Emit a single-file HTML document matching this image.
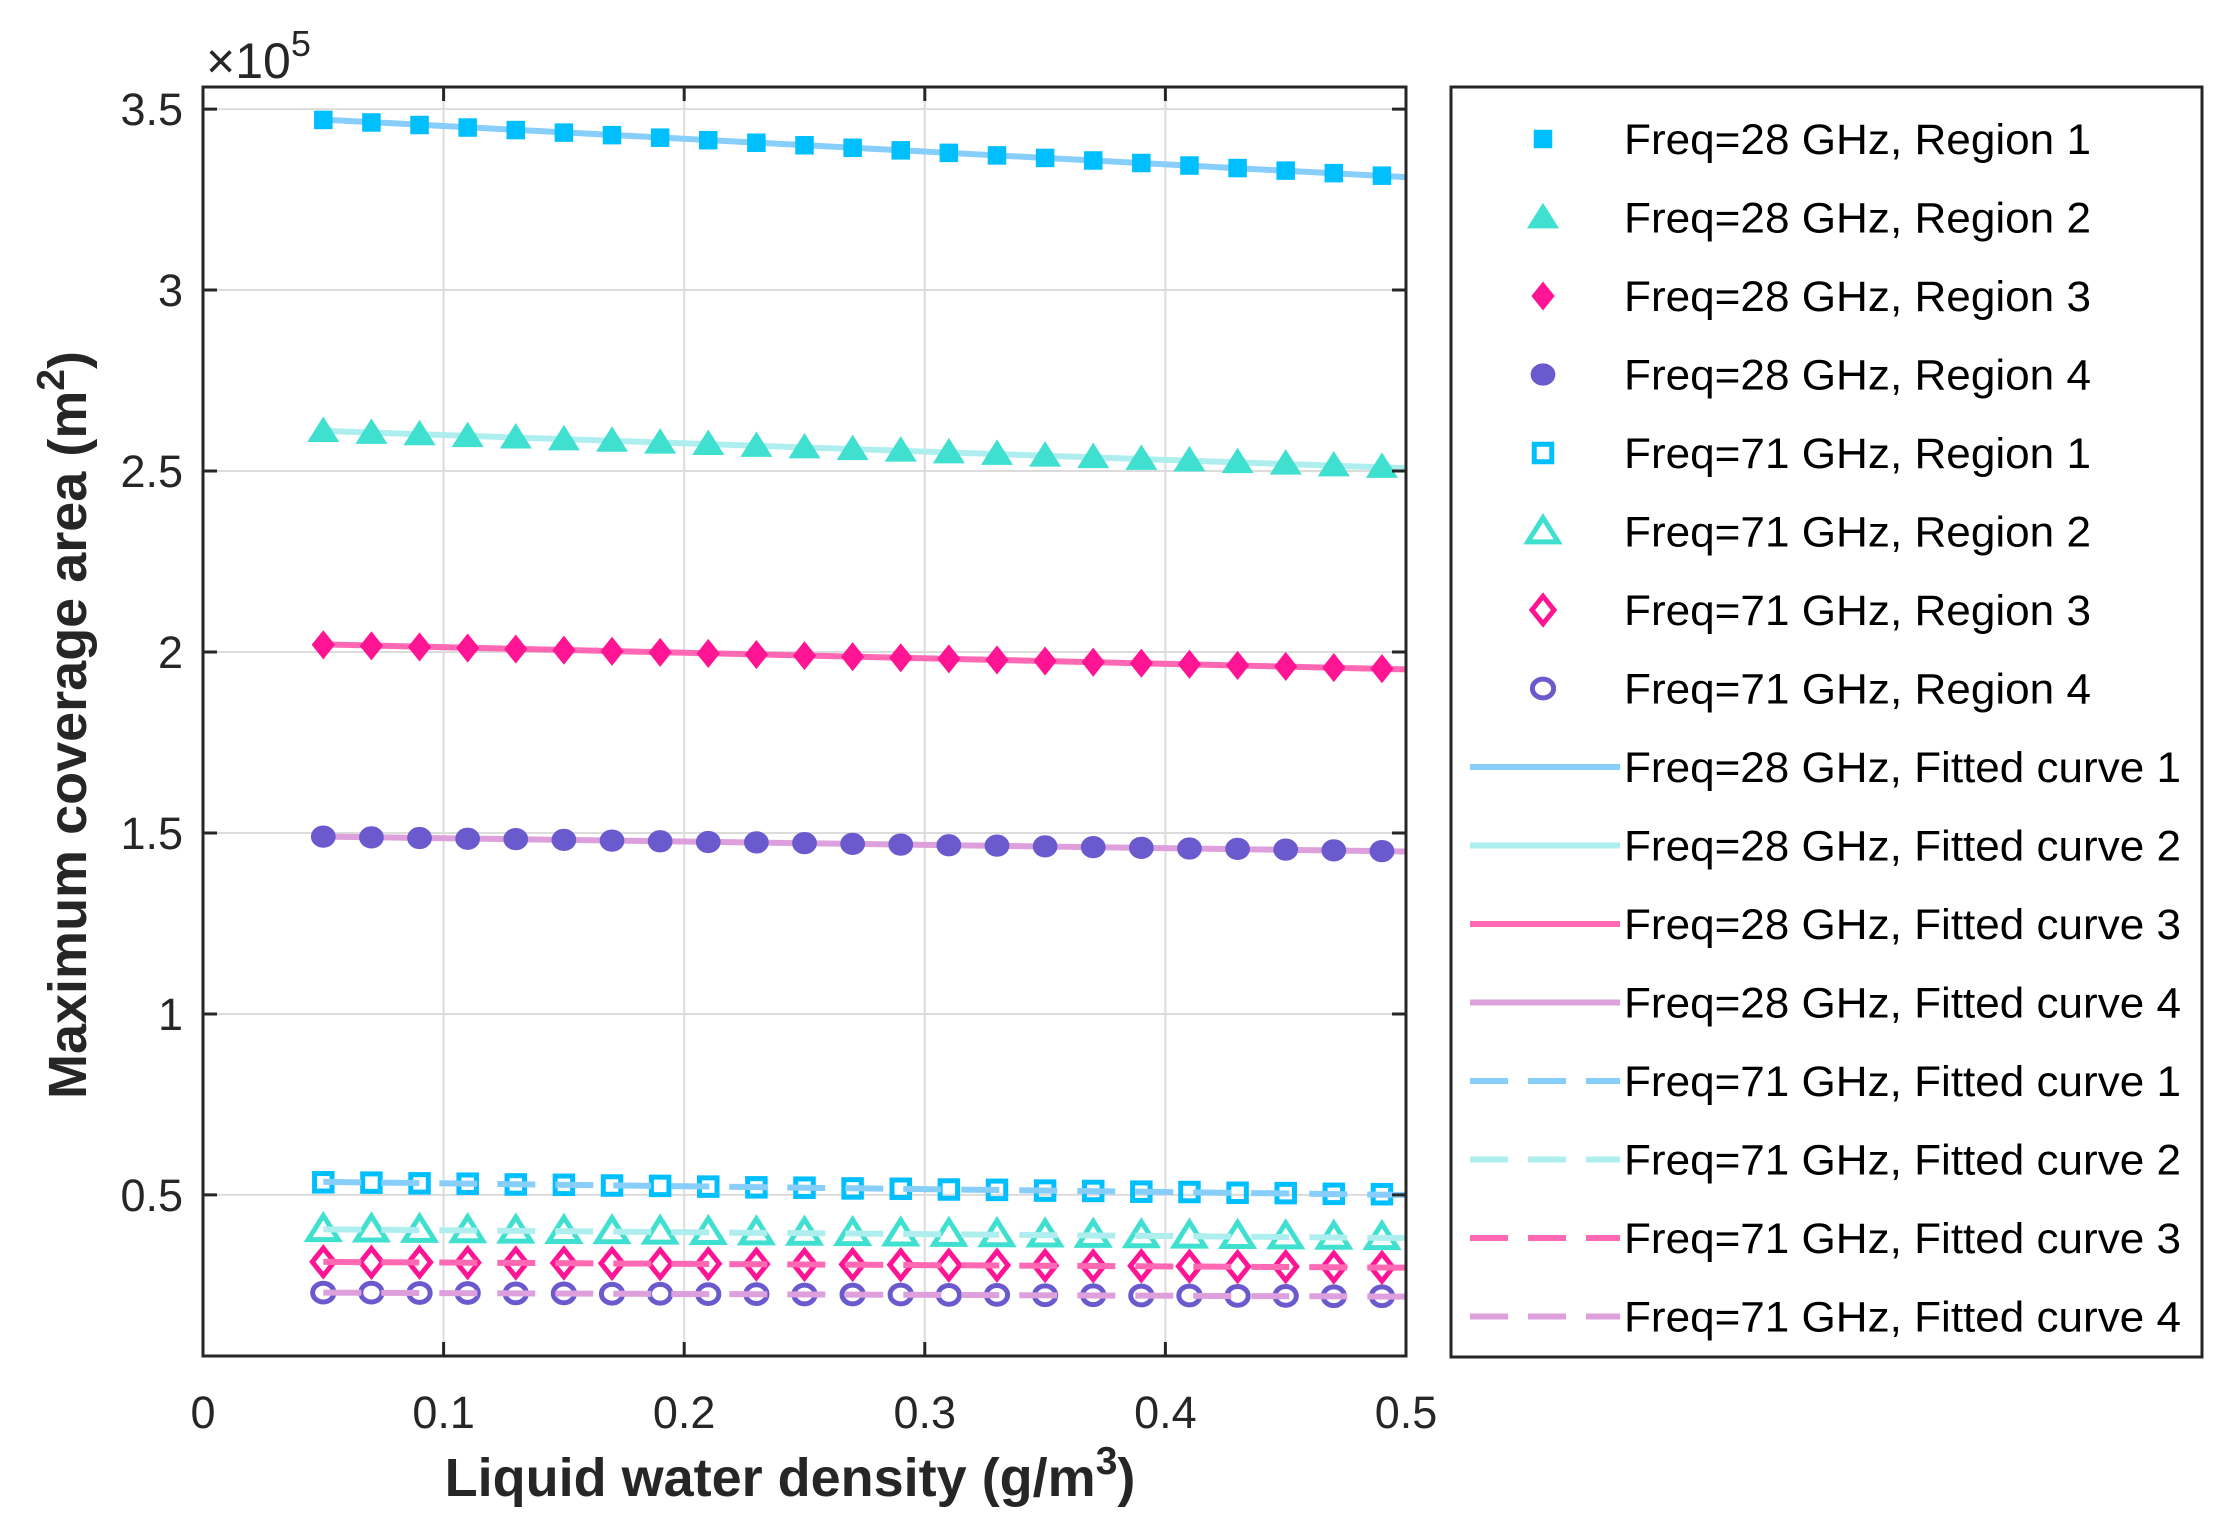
<!DOCTYPE html>
<html><head><meta charset="utf-8"><style>
html,body{margin:0;padding:0;background:#fff;}
svg{display:block;font-family:"Liberation Sans",Arial,sans-serif;}
</style></head><body>
<svg id="chart" width="2238" height="1540" viewBox="0 0 2238 1540" xmlns="http://www.w3.org/2000/svg">
<rect x="0" y="0" width="2238" height="1540" fill="#fff"/>
<g id="grid"></g>
<g id="series"></g>
<g id="axes"></g>
<text x="206" y="78" font-size="50" fill="#262626">×10<tspan dy="-22" font-size="36">5</tspan></text>
<text x="790" y="1496" font-size="54" font-weight="bold" text-anchor="middle" fill="#262626">Liquid water density (g/m<tspan dy="-22" font-size="39">3</tspan><tspan dy="22">)</tspan></text>
<text transform="translate(86,725) rotate(-90)" font-size="54" font-weight="bold" text-anchor="middle" fill="#262626">Maximum coverage area (m<tspan dy="-22" font-size="39">2</tspan><tspan dy="22">)</tspan></text>
<g id="legend"></g>
</svg>
<script>
const xTicks=[0,0.1,0.2,0.3,0.4,0.5];
const xTickLabels=["0","0.1","0.2","0.3","0.4","0.5"];
const yTicks=[0.5,1,1.5,2,2.5,3,3.5];
const yTickLabels=["0.5","1","1.5","2","2.5","3","3.5"];
const xData=[0.05,0.07,0.09,0.11,0.13,0.15,0.17,0.19,0.21,0.23,0.25,0.27,0.29,0.31,0.33,0.35,0.37,0.39,0.41,0.43,0.45,0.47,0.49];
const f28r1=[3.470,3.463,3.456,3.449,3.442,3.435,3.428,3.421,3.414,3.407,3.400,3.393,3.386,3.379,3.372,3.365,3.358,3.351,3.344,3.337,3.330,3.323,3.316];
const f28r2=[2.610,2.605,2.601,2.596,2.592,2.587,2.583,2.578,2.574,2.569,2.565,2.560,2.556,2.551,2.547,2.542,2.538,2.533,2.529,2.524,2.520,2.515,2.511];
const f28r3=[2.020,2.017,2.014,2.011,2.008,2.005,2.002,1.999,1.996,1.993,1.990,1.987,1.984,1.981,1.978,1.975,1.972,1.969,1.966,1.963,1.960,1.957,1.954];
const f28r4=[1.490,1.488,1.486,1.484,1.483,1.481,1.479,1.477,1.475,1.474,1.472,1.470,1.468,1.466,1.465,1.463,1.461,1.459,1.457,1.456,1.454,1.452,1.450];
const f71r1=[0.535,0.534,0.532,0.531,0.529,0.528,0.526,0.525,0.523,0.521,0.520,0.518,0.517,0.515,0.514,0.512,0.511,0.509,0.508,0.506,0.505,0.503,0.502];
const f71r2=[0.405,0.404,0.403,0.402,0.401,0.400,0.399,0.398,0.397,0.396,0.395,0.394,0.393,0.392,0.391,0.390,0.389,0.388,0.387,0.386,0.385,0.384,0.383];
const f71r3=[0.315,0.314,0.314,0.313,0.312,0.312,0.311,0.310,0.310,0.309,0.308,0.308,0.307,0.306,0.306,0.305,0.304,0.304,0.303,0.302,0.302,0.301,0.300];
const f71r4=[0.230,0.230,0.229,0.229,0.228,0.228,0.227,0.227,0.226,0.226,0.225,0.225,0.225,0.224,0.224,0.223,0.223,0.222,0.222,0.221,0.221,0.220,0.220];
const fitX=[0.05,0.5];
const fit28c1=[3.471,3.312];
const fit28c2=[2.611,2.508];
const fit28c3=[2.021,1.952];
const fit28c4=[1.490,1.449];
const fit71c1=[0.536,0.500];
const fit71c2=[0.405,0.381];
const fit71c3=[0.315,0.299];
const fit71c4=[0.230,0.219];

const L=203,R=1406,T=87,B=1356;
const xMin=0,xMax=0.5,yMin=0.055,yMax=3.561;
const X=v=>L+(v-xMin)/(xMax-xMin)*(R-L);
const Y=v=>B-(v-yMin)/(yMax-yMin)*(B-T);
const NS='http://www.w3.org/2000/svg';
function mk(tag,attrs,parent){const e=document.createElementNS(NS,tag);for(const k in attrs)e.setAttribute(k,attrs[k]);parent.appendChild(e);return e;}
const grid=document.getElementById('grid'),axes=document.getElementById('axes'),ser=document.getElementById('series'),leg=document.getElementById('legend');

xTicks.forEach((t,i)=>{
  if(t>xMin&&t<xMax){const g=mk('line',{x1:X(t),x2:X(t),y1:T,y2:B,stroke:'#dcdcdc','stroke-width':2},grid);
  
  }
  const tk=mk('path',{d:`M${X(t)},${B}v-14M${X(t)},${T}v14`,stroke:'#262626','stroke-width':3},axes);
  
  
  const lb=mk('text',{x:X(t),y:1428,'font-size':45,'text-anchor':'middle',fill:'#262626'},axes);
  lb.textContent=xTickLabels[i];
  
  
});
yTicks.forEach((t,i)=>{
  const g=mk('line',{x1:L,x2:R,y1:Y(t),y2:Y(t),stroke:'#dcdcdc','stroke-width':2},grid);
  
  
  const tk=mk('path',{d:`M${L},${Y(t)}h14M${R},${Y(t)}h-14`,stroke:'#262626','stroke-width':3},axes);
  
  
  const lb=mk('text',{x:183,y:Y(t)+16,'font-size':45,'text-anchor':'end',fill:'#262626'},axes);
  lb.textContent=yTickLabels[i];
  
  
});
const box=mk('rect',{x:L,y:T,width:R-L,height:B-T,fill:'none',stroke:'#262626','stroke-width':3},axes);



const mc=['#00BFFF','#40E0D0','#FF1493','#6A5ACD'];
const lc=['#87CEFA','#AFEEEE','#FF69B4','#DDA0DD'];
const shapes=['square','triangle','diamond','circle'];
function marker(shape,cx,cy,color,filled,parent){
  const s=1.25;let e;
  const st=filled?{fill:color,stroke:color,'stroke-width':1}:{fill:'none',stroke:color,'stroke-width':5};
  if(shape==='square'){const h=7*s;e=mk('rect',Object.assign({x:cx-h,y:cy-h,width:2*h,height:2*h},st),parent);}
  else if(shape==='triangle'){const h=11*s;e=mk('polygon',Object.assign({points:`${cx},${cy-h} ${cx+h*1.1},${cy+h*0.75} ${cx-h*1.1},${cy+h*0.75}`},st),parent);}
  else if(shape==='diamond'){const h=11*s;e=mk('polygon',Object.assign({points:`${cx},${cy-h} ${cx+h*0.8},${cy} ${cx},${cy+h} ${cx-h*0.8},${cy}`},st),parent);}
  else {e=mk('ellipse',Object.assign({cx:cx,cy:cy,rx:(filled?9.5:8.5)*s,ry:(filled?8.5:7.5)*s},st),parent);}
  return e;
}
const pts28=[f28r1,f28r2,f28r3,f28r4],pts71=[f71r1,f71r2,f71r3,f71r4];
const fits28=[fit28c1,fit28c2,fit28c3,fit28c4],fits71=[fit71c1,fit71c2,fit71c3,fit71c4];
const dash='38 20';
fits28.forEach((f,i)=>{const e=mk('line',{x1:X(fitX[0]),y1:Y(f[0]),x2:X(fitX[1]),y2:Y(f[1]),stroke:lc[i],'stroke-width':6},ser);
  
  });
pts28.forEach((arr,i)=>{arr.forEach((v,j)=>{const m=marker(shapes[i],X(xData[j]),Y(v),mc[i],true,ser);
  
  });});
pts71.forEach((arr,i)=>{arr.forEach((v,j)=>{const m=marker(shapes[i],X(xData[j]),Y(v),mc[i],false,ser);
  
  });});
fits71.forEach((f,i)=>{const e=mk('line',{x1:X(fitX[0]),y1:Y(f[0]),x2:X(fitX[1]),y2:Y(f[1]),stroke:lc[i],'stroke-width':6,'stroke-dasharray':dash},ser);
  
  });

const lb=mk('rect',{x:1451,y:87,width:751,height:1270,fill:'#fff',stroke:'#262626','stroke-width':3},leg);


const labels=[];
for(let i=0;i<4;i++)labels.push('Freq=28 GHz, Region '+(i+1));
for(let i=0;i<4;i++)labels.push('Freq=71 GHz, Region '+(i+1));
for(let i=0;i<4;i++)labels.push('Freq=28 GHz, Fitted curve '+(i+1));
for(let i=0;i<4;i++)labels.push('Freq=71 GHz, Fitted curve '+(i+1));
labels.forEach((t,k)=>{
  const y=139+k*78.5;
  const g=mk('g',{},leg);
  
  
  if(k<8){const i=k%4;marker(shapes[i],1543,y,mc[i],k<4,g);}
  else {const i=k%4;const a={x1:1470,x2:1620,y1:y,y2:y,stroke:lc[i],'stroke-width':6};if(k>=12)a['stroke-dasharray']=dash;mk('line',a,g);}
  const tx=mk('text',{x:1624,y:y+15,'font-size':43,fill:'#000',textLength:k<8?467:557,lengthAdjust:'spacingAndGlyphs'},g);
  tx.textContent=t;
});
</script>
</body></html>
